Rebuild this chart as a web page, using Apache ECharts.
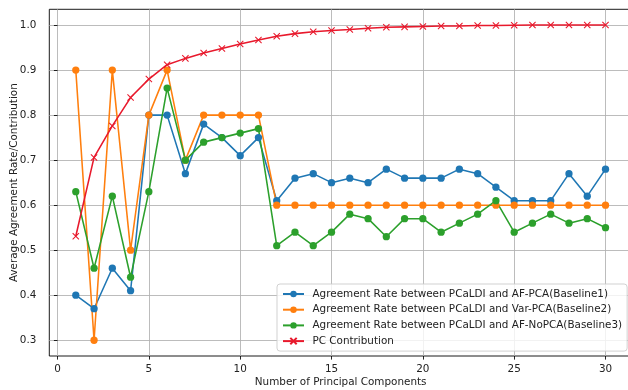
<!DOCTYPE html>
<html>
<head>
<meta charset="utf-8">
<script src="https://cdn.jsdelivr.net/npm/echarts@6/dist/echarts.min.js"></script>
<style>
html,body{margin:0;padding:0;background:#fff;}
#chart{width:628px;height:390px;}
</style>
</head>
<body>
<div id="chart"></div>
<script>
const components = [1,2,3,4,5,6,7,8,9,10,11,12,13,14,15,16,17,18,19,20,21,22,23,24,25,26,27,28,29,30];
const baseline1 = [0.40,0.37,0.46,0.41,0.80,0.80,0.67,0.78,0.75,0.71,0.75,0.61,0.66,0.67,0.65,0.66,0.65,0.68,0.66,0.66,0.66,0.68,0.67,0.64,0.61,0.61,0.61,0.67,0.62,0.68];
const baseline2 = [0.90,0.30,0.90,0.50,0.80,0.90,0.70,0.80,0.80,0.80,0.80,0.60,0.60,0.60,0.60,0.60,0.60,0.60,0.60,0.60,0.60,0.60,0.60,0.60,0.60,0.60,0.60,0.60,0.60,0.60];
const baseline3 = [0.63,0.46,0.62,0.44,0.63,0.86,0.70,0.74,0.75,0.76,0.77,0.51,0.54,0.51,0.54,0.58,0.57,0.53,0.57,0.57,0.54,0.56,0.58,0.61,0.54,0.56,0.58,0.56,0.57,0.55];
const pcContribution = [0.531,0.706,0.776,0.839,0.880,0.912,0.926,0.938,0.948,0.958,0.967,0.975,0.981,0.985,0.988,0.990,0.993,0.995,0.996,0.997,0.998,0.998,0.999,0.999,0.9995,1.0,1.0,1.0,1.0,1.0];
const seriesNames = [
  'Agreement Rate between PCaLDI and AF-PCA(Baseline1)',
  'Agreement Rate between PCaLDI and Var-PCA(Baseline2)',
  'Agreement Rate between PCaLDI and AF-NoPCA(Baseline3)',
  'PC Contribution'
];
const xTicks = [0,5,10,15,20,25,30];
const yTicks = [0.3,0.4,0.5,0.6,0.7,0.8,0.9,1.0];

const FONT = 'DejaVu Sans';
const FS = 10.4;
const TXT = '#222';

function pairs(vals){ return components.map((c,i)=>[c, vals[i]]); }
function circleSeries(name, vals, color){
  return {
    name, type:'line', data: pairs(vals),
    symbol:'circle', symbolSize:7.3,
    lineStyle:{color, width:1.56},
    itemStyle:{color, borderWidth:0},
    emphasis:{disabled:true}, animation:false, z:2
  };
}
const red = '#e8192c';
const chart = echarts.init(document.getElementById('chart'), null, {renderer:'canvas'});
chart.setOption({
  animation:false,
  backgroundColor:'#fff',
  textStyle:{fontFamily:FONT},
  grid:{left:49.3, top:9.3, right:-4, bottom:34, containLabel:false, outerBoundsMode:'none', show:true, borderColor:'#000', borderWidth:0.9, backgroundColor:'transparent'},
  xAxis:{
    type:'value', min:-0.45, max:31.45,
    name:'Number of Principal Components', nameLocation:'middle', nameGap:21, nameMoveOverlap:false,
    nameTextStyle:{fontFamily:FONT, fontSize:FS, color:TXT},
    axisLine:{show:false},
    axisTick:{show:true, length:3.6, lineStyle:{color:'#000', width:0.85}, customValues:xTicks},
    axisLabel:{fontFamily:FONT, fontSize:FS, color:TXT, margin:8.5, customValues:xTicks, formatter:v=>String(v)},
    splitLine:{show:true, lineStyle:{color:'#b0b0b0', width:0.85}}
  },
  yAxis:{
    type:'value', min:0.265, max:1.035,
    name:'Average Agreement Rate/Contribution', nameLocation:'middle', nameGap:30, nameRotate:90, nameMoveOverlap:false,
    nameTextStyle:{fontFamily:FONT, fontSize:FS, color:TXT},
    axisLine:{show:false},
    axisTick:{show:true, length:3.6, lineStyle:{color:'#000', width:0.85}, customValues:yTicks},
    axisLabel:{fontFamily:FONT, fontSize:FS, color:TXT, margin:13, customValues:yTicks, formatter:v=>v.toFixed(1)},
    splitLine:{show:true, lineStyle:{color:'#b0b0b0', width:0.85}}
  },
  legend:{
    orient:'vertical', left:277, top:284,
    padding:[4,5,4,5], itemWidth:21, itemHeight:8, itemGap:3.7,
    backgroundColor:'rgba(255,255,255,0.8)', borderColor:'#cccccc', borderWidth:0.9, borderRadius:3,
    textStyle:{fontFamily:FONT, fontSize:FS, color:TXT, lineHeight:12, padding:[0,0,0,3.5]},
    data: seriesNames
  },
  series:[
    circleSeries(seriesNames[0], baseline1, '#1f77b4'),
    circleSeries(seriesNames[1], baseline2, '#ff7f0e'),
    circleSeries(seriesNames[2], baseline3, '#2ca02c'),
    {
      name: seriesNames[3], type:'line', data: pairs(pcContribution),
      symbol:'path://M0,0L10,10M10,0L0,10', symbolSize:6.3,
      lineStyle:{color:red, width:1.56},
      itemStyle:{color:'none', borderColor:red, borderWidth:1.05},
      emphasis:{disabled:true}, z:3
    }
  ]
});
</script>
</body>
</html>
